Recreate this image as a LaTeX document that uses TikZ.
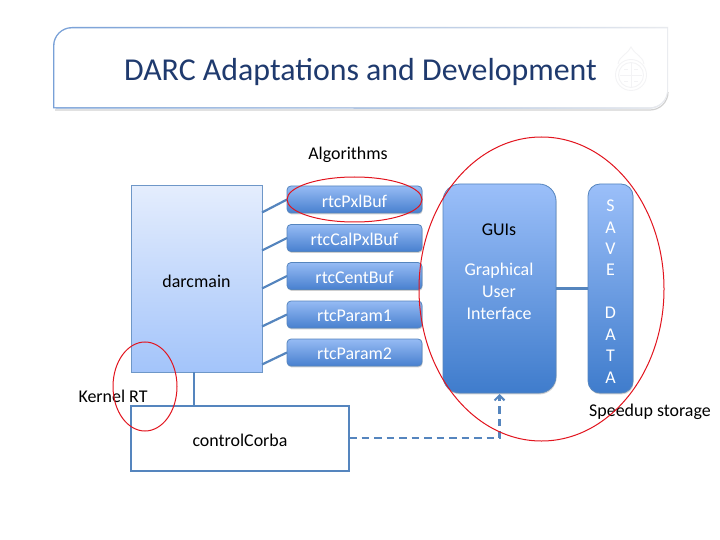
\documentclass[tikz,border=0pt]{standalone}
\usepackage{fontspec}
\setmainfont{Carlito}
\usetikzlibrary{shapes.geometric,shadows,arrows.meta,calc}
\definecolor{linkblue}{HTML}{5585BE}
\definecolor{titleblue}{HTML}{1F3A6E}
\definecolor{ringred}{HTML}{E2141E}
\definecolor{sealgrey}{HTML}{F3F3F5}
\newcommand{\lowertext}[2]{\raisebox{-#1bp}[\height][\depth]{#2}}
\tikzset{
  x=1bp,y=-1bp,
  softshadow/.style={drop shadow={shadow xshift=0.6bp,shadow yshift=-1.4bp,opacity=.3,fill=black!60}},
  darcbox/.style={draw=linkblue!85,line width=1bp,rectangle,inner sep=0pt,outer sep=0pt,top color={rgb,255:red,228;green,237;blue,253},bottom color={rgb,255:red,163;green,196;blue,250},softshadow,font=\fontsize{18}{22}\selectfont},
  bufbox/.style={draw=linkblue,line width=.8bp,rectangle,rounded corners=4bp,minimum width=135bp,minimum height=27bp,inner sep=0pt,outer sep=0pt,top color={rgb,255:red,150;green,187;blue,244},bottom color={rgb,255:red,72;green,128;blue,207},softshadow,text=white,font=\fontsize{18}{22}\selectfont},
  tallbox/.style={draw=linkblue,line width=.8bp,rectangle,inner sep=0pt,outer sep=0pt,top color={rgb,255:red,155;green,191;blue,249},bottom color={rgb,255:red,63;green,124;blue,204},softshadow},
  plainbox/.style={draw=linkblue,line width=1.6bp,fill=white,rectangle,inner sep=0pt,outer sep=0pt,font=\fontsize{18}{22}\selectfont},
  ring/.style={draw=ringred,line width=1bp,ellipse,inner sep=0pt,outer sep=0pt},
  link/.style={draw=linkblue,line width=2.2bp},
  label/.style={font=\fontsize{18}{22}\selectfont,inner sep=0pt},
}
\begin{document}
\begin{tikzpicture}
\useasboundingbox[fill=white] (0,0) rectangle (720,540);
% title panel
\draw[black!18,line width=1.2bp] (55,110) -- (650,110) arc[start angle=-90,end angle=0,radius=18bp];
\path[left color={rgb,255:red,120;green,160;blue,215},right color={rgb,255:red,232;green,234;blue,238}]
  (53,108.5) -- (53,46) arc[start angle=180,end angle=90,radius=19bp] -- (668,27) -- (668,90) arc[start angle=0,end angle=-90,radius=19bp] -- cycle;
\fill[white] (54.4,107.1) -- (54.4,46) arc[start angle=180,end angle=90,radius=17.6bp] -- (667,28.4) -- (667,90) arc[start angle=0,end angle=-90,radius=17.1bp] -- cycle;
% seal
\begin{scope}[draw=sealgrey,line width=.9bp]
\draw (631,75) circle[radius=15.5bp];
\draw (631,75) circle[radius=12.5bp];
\draw (631,63) -- (631,87) (620,75) -- (642,75);
\draw (618,64) .. controls (620,55) and (626,56) .. (631,47) .. controls (636,56) and (642,55) .. (644,64);
\draw (624,69) -- (628,69) (634,69) -- (638,69) (624,81) -- (628,81) (634,81) -- (638,81);
\end{scope}
\node[font=\fontsize{32}{38}\selectfont,text=titleblue,inner sep=0pt] (title) at (360.5,72) {DARC Adaptations and Development};
% main boxes
\node[darcbox,minimum width=131bp,minimum height=186bp] (darc) at (196.5,279) {\lowertext{2.5}{darcmain}};
\node[plainbox,minimum width=218bp,minimum height=65bp] (corba) at (240,438.5) {\lowertext{1.5}{controlCorba}};
\node[bufbox] (b1) at (354.5,199.5) {\lowertext{1.5}{rtcPxlBuf}};
\node[bufbox] (b2) at (354.5,238) {\lowertext{1.5}{rtcCalPxlBuf}};
\node[bufbox] (b3) at (354.5,276) {\lowertext{1.5}{rtcCentBuf}};
\node[bufbox] (b4) at (354.5,314.5) {\lowertext{1.5}{rtcParam1}};
\node[bufbox] (b5) at (354.5,352.5) {\lowertext{1.5}{rtcParam2}};
\node[tallbox,rounded corners=17bp,minimum width=113bp,minimum height=209bp] (gui) at (499.5,288.5) {};
\node[tallbox,rounded corners=12bp,minimum width=45bp,minimum height=209bp] (save) at (610.5,288.5) {};
% box texts
\node[label,text=black] (guititle) at (499,230) {GUIs};
\node[label,text=white,align=center] (guitext) at (499,291) {Graphical\\User\\Interface};
\node[label,text=white] (sv1) at (610.5,206) {S};
\node[label,text=white] (sv2) at (610.5,228) {A};
\node[label,text=white] (sv3) at (610.5,249) {V};
\node[label,text=white] (sv4) at (610.5,270) {E};
\node[label,text=white] (sv5) at (610.5,313) {D};
\node[label,text=white] (sv6) at (610.5,335) {A};
\node[label,text=white] (sv7) at (610.5,356) {T};
\node[label,text=white] (sv8) at (610.5,378) {A};
% connectors
\coordinate (d1) at (262,212.5);
\coordinate (d2) at (262,250.5);
\coordinate (d3) at (262,288.5);
\coordinate (d4) at (262,326.5);
\coordinate (d5) at (262,364.5);
\coordinate (dbot) at (194,372);
\coordinate (ctop) at (194,406);
\coordinate (cright) at (349,438);
\coordinate (bend) at (499.5,438);
\coordinate (guibot) at (499.5,394);
\draw[link] (d1) -- (b1.west);
\draw[link] (d2) -- (b2.west);
\draw[link] (d3) -- (b3.west);
\draw[link] (d4) -- (b4.west);
\draw[link] (d5) -- (b5.west);
\draw[link] (dbot) -- (ctop);
\draw[link] (gui.east) -- (save.west);
\draw[link,dash pattern=on 7.5bp off 5bp,-{Straight Barb[length=5bp,width=10bp,line width=2bp]}] (cright) -- (bend) -- (guibot);
% labels
\node[label] (alg) at (348,154.5) {Algorithms};
\node[label] (kern) at (113,396) {Kernel RT};
\node[label] (speed) at (650,411.5) {Speedup storage};
% red rings
\node[ring,minimum width=135bp,minimum height=45bp] (r1) at (354.5,199.5) {};
\node[ring,minimum width=64bp,minimum height=89bp] (r2) at (145,386.5) {};
\node[ring,minimum width=245bp,minimum height=304bp] (r3) at (541.5,289) {};
\end{tikzpicture}
\end{document}
